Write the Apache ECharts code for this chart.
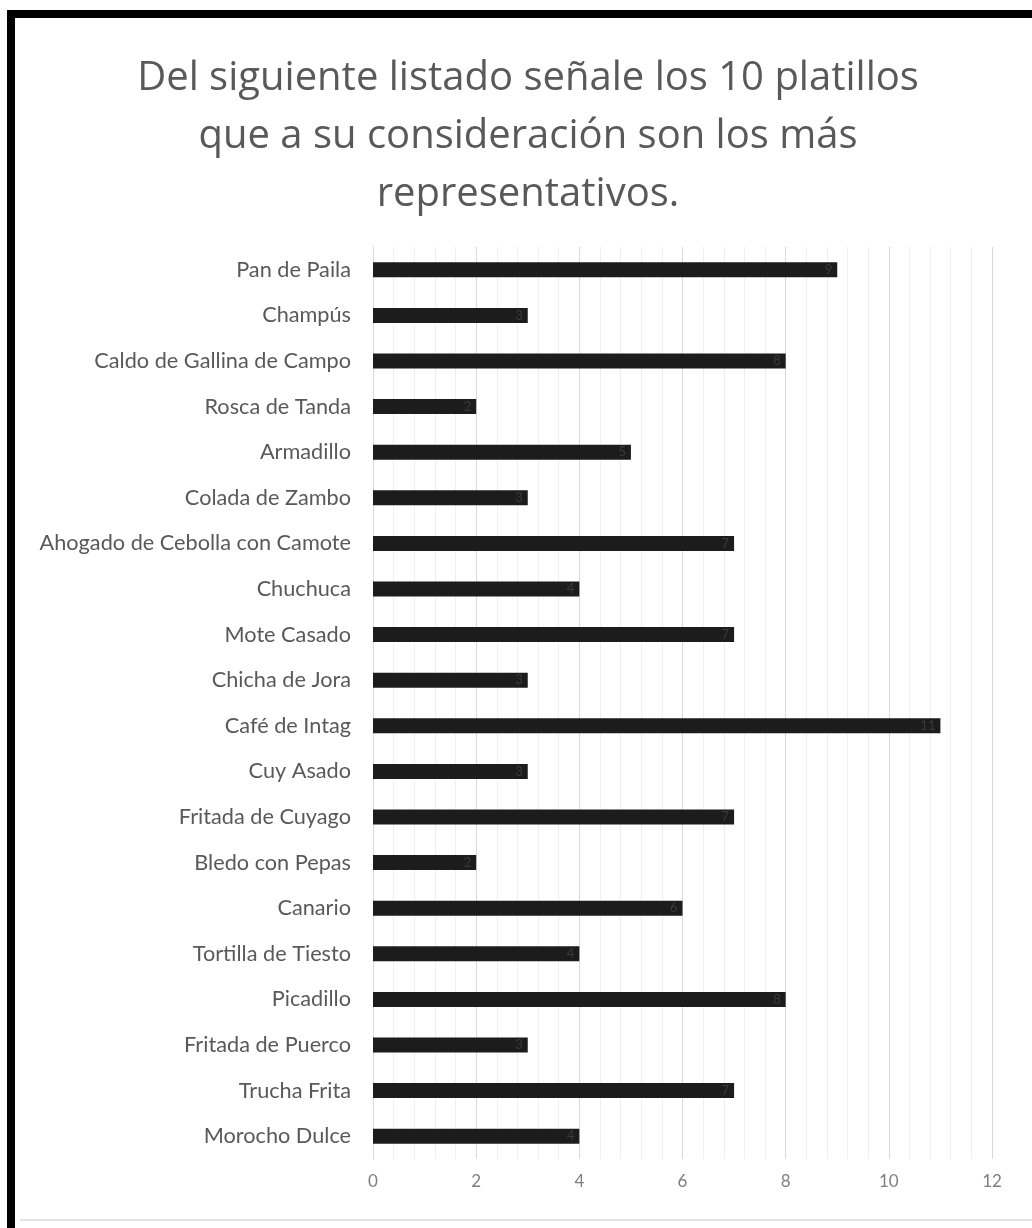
<!DOCTYPE html>
<html>
<head>
<meta charset="utf-8">
<script src="https://cdn.jsdelivr.net/npm/echarts@6/dist/echarts.min.js"></script>
<style>
  html, body { margin: 0; padding: 0; background: #fff; }
  #grid { width: 1032px; height: 1228px; }
  .frame-top { position: absolute; left: 7px; top: 10px; width: 1025px; height: 8px; background: #000; }
  .frame-left { position: absolute; left: 7px; top: 10px; width: 8px; height: 1218px; background: #000; }
  .edge-bottom { position: absolute; left: 20px; top: 1219px; width: 1012px; height: 2px; background: #e4e4e4; }
</style>
</head>
<body>
<div id="grid"></div>
<div class="frame-top"></div>
<div class="frame-left"></div>
<div class="edge-bottom"></div>
<script>
// top to bottom, as shown
let dishes = [
    'Pan de Paila', 'Champús', 'Caldo de Gallina de Campo', 'Rosca de Tanda',
    'Armadillo', 'Colada de Zambo', 'Ahogado de Cebolla con Camote', 'Chuchuca',
    'Mote Casado', 'Chicha de Jora', 'Café de Intag', 'Cuy Asado',
    'Fritada de Cuyago', 'Bledo con Pepas', 'Canario', 'Tortilla de Tiesto',
    'Picadillo', 'Fritada de Puerco', 'Trucha Frita', 'Morocho Dulce'
];
let votes = [9, 3, 8, 2, 5, 3, 7, 4, 7, 3, 11, 3, 7, 2, 6, 4, 8, 3, 7, 4];

let titleText = 'Del siguiente listado señale los 10 platillos\nque a su consideración son los más\nrepresentativos.';

option = {
    backgroundColor: '#fff',
    animation: false,
    textStyle: {
        fontFamily: 'Lato'
    },
    title: {
        text: titleText,
        left: 528,
        top: 50,
        padding: 0,
        textAlign: 'center',
        textStyle: {
            fontFamily: 'Open Sans',
            fontWeight: 'normal',
            fontSize: 40,
            lineHeight: 58,
            color: '#595959',
            align: 'center'
        }
    },
    grid: {
        left: 373,
        right: 40,
        top: 247,
        bottom: 69
    },
    xAxis: {
        type: 'value',
        min: 0,
        max: 12,
        interval: 2,
        axisLine: { show: false },
        axisTick: { show: false },
        axisLabel: {
            color: '#7f7f7f',
            fontSize: 17,
            margin: 14
        },
        splitLine: {
            show: true,
            lineStyle: { color: '#d9d9d9', width: 1 }
        },
        minorTick: { show: false, splitNumber: 5 },
        minorSplitLine: {
            show: true,
            lineStyle: { color: '#efefef', width: 1 }
        }
    },
    yAxis: {
        type: 'category',
        data: dishes,
        inverse: true,
        axisLine: { show: true, lineStyle: { color: '#d9d9d9' } },
        axisTick: { show: false },
        axisLabel: {
            color: '#595959',
            fontSize: 21.7,
            margin: 22
        }
    },
    series: [{
        type: 'bar',
        data: votes,
        barWidth: 15,
        itemStyle: { color: '#1c1c1c' },
        label: {
            show: true,
            position: 'insideRight',
            color: '#3a3a3a',
            fontSize: 13
        }
    }]
};

let myChart = echarts.init(document.getElementById('grid'));
myChart.setOption(option);
</script>
</body>
</html>
